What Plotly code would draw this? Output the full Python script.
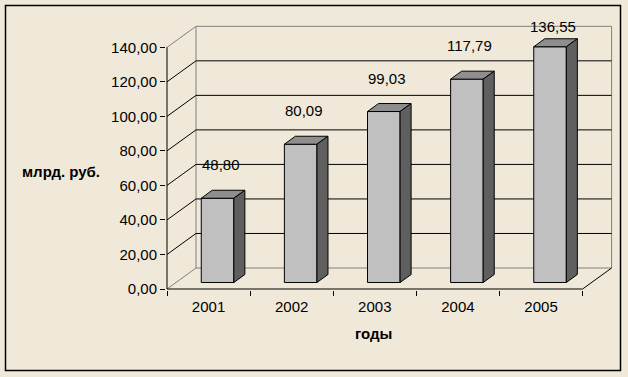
import plotly.graph_objects as go

# ---------------- data ----------------
years = ["2001", "2002", "2003", "2004", "2005"]
values = [48.80, 80.09, 99.03, 117.79, 136.55]
value_labels = ["48,80", "80,09", "99,03", "117,79", "136,55"]
y_ticks = [0, 20, 40, 60, 80, 100, 120, 140]
y_tick_labels = ["0,00", "20,00", "40,00", "60,00", "80,00", "100,00", "120,00", "140,00"]
y_title = "млрд. руб."
x_title = "годы"

# ---------------- geometry / style ----------------
W, H = 628, 377
SX = 83.12          # px per category
SY = 1.7264         # px per value unit
DX = 29 / SX        # depth offset of back wall (x units)
DY = 21 / SY        # depth offset of back wall (value units)
F1, F2 = 0.31, 0.69  # bar depth (fraction of wall depth)
HW = 0.196          # half bar width (category units)

ML, MR, MT, MB = 166, 15, 24, 87
PW, PH = W - ML - MR, H - MT - MB
X0 = -0.5 - 1 / SX
X1 = X0 + PW / SX
Y0 = -1 / SY
Y1 = Y0 + PH / SY

BG = "#F0E9DA"
FRONT, TOP, SIDE = "#C0C0C0", "#8E8E8E", "#5F5F5F"
GRAY = "#808080"
FONT = "Liberation Sans, Arial, sans-serif"

n = len(years)
vmax = y_ticks[-1]
xl, xr = -0.5, n - 0.5

fig = go.Figure()


def segs(pairs, color, width=1):
    xs, ys = [], []
    for (a, b), (c, d) in pairs:
        xs += [a, c, None]
        ys += [b, d, None]
    fig.add_trace(go.Scatter(x=xs, y=ys, mode="lines", hoverinfo="skip",
                             line=dict(color=color, width=width), showlegend=False))


# back wall gray frame, floor back edge, left wall top/bottom diagonals
segs([
    ((xl + DX, DY), (xr + DX, DY)),
    ((xl + DX, vmax + DY), (xr + DX, vmax + DY)),
    ((xl + DX, DY), (xl + DX, vmax + DY)),
    ((xr + DX, DY), (xr + DX, vmax + DY)),
    ((xl, 0), (xl + DX, DY)),
    ((xl, vmax), (xl + DX, vmax + DY)),
], GRAY)

# black gridlines on back wall and left wall
inner = [v for v in y_ticks if 0 < v < vmax]
segs([((xl + DX, v + DY), (xr + DX, v + DY)) for v in inner]
     + [((xl, v), (xl + DX, v + DY)) for v in inner], "black")

# front axes and right floor edge
segs([
    ((xl, 0), (xl, vmax)),
    ((xl, 0), (xr, 0)),
    ((xr, 0), (xr + DX, DY)),
], "black")

# bars
for i, v in enumerate(values):
    cx1 = i + F1 * DX
    cx2 = i + F2 * DX
    b1, b2 = F1 * DY, F2 * DY
    faces = [
        ([cx1 - HW, cx1 + HW, cx1 + HW, cx1 - HW, cx1 - HW], [b1, b1, b1 + v, b1 + v, b1], FRONT),
        ([cx1 - HW, cx1 + HW, cx2 + HW, cx2 - HW, cx1 - HW], [b1 + v, b1 + v, b2 + v, b2 + v, b1 + v], TOP),
        ([cx1 + HW, cx2 + HW, cx2 + HW, cx1 + HW, cx1 + HW], [b1, b2, b2 + v, b1 + v, b1], SIDE),
    ]
    for xs, ys, col in faces:
        fig.add_trace(go.Scatter(x=xs, y=ys, mode="lines", fill="toself", fillcolor=col,
                                 line=dict(color="black", width=1), hoverinfo="skip",
                                 showlegend=False))

# data labels
label_off = 40 / SY
label_max = vmax + DY
for i, (v, t) in enumerate(zip(values, value_labels)):
    fig.add_annotation(x=i + F1 * DX + 3 / SX, y=min(v + label_off, label_max), text=t,
                       showarrow=False, xanchor="center", yanchor="middle",
                       font=dict(family=FONT, size=15, color="black"))


def px2paper(px, py):
    return (px - ML) / PW, (H - MB - py) / PH


# axis titles
ax, ay = px2paper(61, 171.5)
fig.add_annotation(x=ax, y=ay, xref="paper", yref="paper", text="<b>%s</b>" % y_title,
                   showarrow=False, xanchor="center", yanchor="middle",
                   font=dict(family=FONT, size=15, color="black"))
ax, ay = px2paper(373.5, 333.5)
fig.add_annotation(x=ax, y=ay, xref="paper", yref="paper", text="<b>%s</b>" % x_title,
                   showarrow=False, xanchor="center", yanchor="middle",
                   font=dict(family=FONT, size=15, color="black"))

# outer frame
fx0, fy0 = px2paper(5.5, 370.5)
fx1, fy1 = px2paper(620.5, 5.5)
fig.add_shape(type="rect", xref="paper", yref="paper", x0=fx0, y0=fy0, x1=fx1, y1=fy1,
              line=dict(color="black", width=1.5), layer="below")

fig.update_layout(
    width=W, height=H,
    margin=dict(l=ML, r=MR, t=MT, b=MB, pad=0),
    paper_bgcolor=BG, plot_bgcolor=BG,
    showlegend=False,
    font=dict(family=FONT, size=15, color="black"),
    xaxis=dict(range=[X0, X1], tickvals=list(range(n)), ticktext=years, ticks="",
               ticklabelstandoff=6,
               showgrid=False, zeroline=False, showline=False, fixedrange=True,
               tickfont=dict(size=15, color="black"),
               minor=dict(tickvals=[k - 0.5 for k in range(n + 1)], ticks="outside",
                          ticklen=5, tickcolor="black", tickwidth=1, showgrid=False)),
    yaxis=dict(range=[Y0, Y1], tickvals=y_ticks, ticktext=y_tick_labels, ticks="outside",
               ticklen=5, tickcolor="black", tickwidth=1,
               showgrid=False, zeroline=False, showline=False, fixedrange=True,
               tickfont=dict(size=15, color="black")),
)

fig.write_html("out.html", config={"displayModeBar": False, "staticPlot": True},
               post_script="document.body.style.margin='0px';"
                           "document.body.style.background='%s';" % BG)
